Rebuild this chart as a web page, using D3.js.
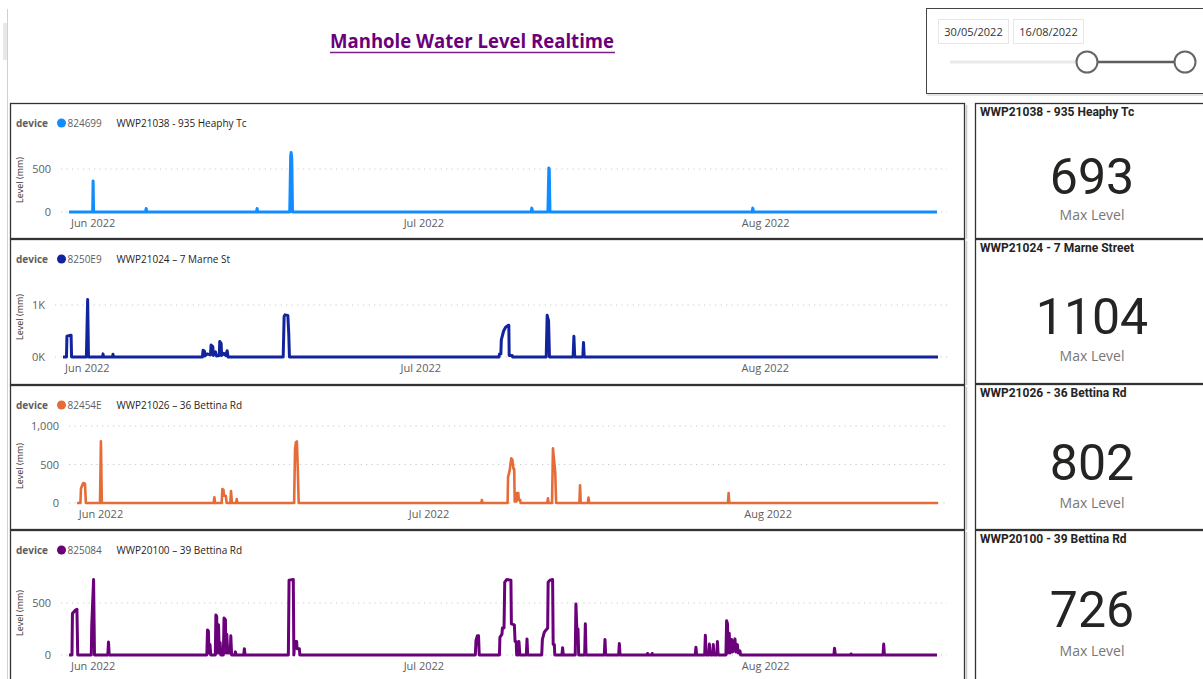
<!DOCTYPE html>
<html><head><meta charset="utf-8">
<script src="https://cdn.jsdelivr.net/npm/d3@7"></script>
<style>
body{margin:0;background:#fff;overflow:hidden;}
svg{display:block;font-family:"Open Sans","Segoe UI",sans-serif;}
</style></head><body>
<svg id="c" width="1203" height="679"></svg>
<script>
// ---------- DATA ----------
const titleText = "Manhole Water Level Realtime";
const sliderDates = ["30/05/2022", "16/08/2022"];
const domainStart = "05-29 20:30", domainEnd = "08-16 14:00";
const devices = ["824699", "8250E9", "82454E", "825084"];
const seriesNames = ["WWP21038 - 935 Heaphy Tc", "WWP21024 \u2013 7 Marne St", "WWP21026 \u2013 36 Bettina Rd", "WWP20100 \u2013 39 Bettina Rd"];
const cardTitles = ["WWP21038 - 935 Heaphy Tc", "WWP21024 - 7 Marne Street", "WWP21026 - 36 Bettina Rd", "WWP20100 - 39 Bettina Rd"];
const maxLevels = [693, 1104, 802, 726];
const cardLabel = "Max Level";
const yAxisTitle = "Level (mm)";
const xTickDates = ["06-01 00:00", "07-01 00:00", "08-01 00:00"];
const xTickLabels = ["Jun 2022", "Jul 2022", "Aug 2022"];
const yTickValues = [[0, 500], [0, 1000], [0, 500, 1000], [0, 500]];
const yTickLabels = [["0", "500"], ["0K", "1K"], ["0", "500", "1,000"], ["0", "500"]];
const yDomainMax = [750, 1150, 1000, 750];

const heaphy = [["05-29 20:30",0],
["06-01 00:00",0],["06-01 01:00",360],["06-01 02:00",0],
["06-05 19:00",0],["06-05 20:30",40],["06-05 22:00",0],
["06-15 20:30",0],["06-15 22:00",40],["06-15 23:30",0],
["06-18 21:00",0],["06-18 23:00",640],["06-19 00:00",693],["06-19 01:30",620],["06-19 03:00",0],
["07-10 18:30",0],["07-10 20:00",45],["07-10 21:30",0],
["07-12 07:00",0],["07-12 09:00",512],["07-12 10:00",490],["07-12 11:30",0],
["07-30 19:30",0],["07-30 21:00",45],["07-30 22:30",0],
["08-16 14:00",0]];

const marne = [["05-29 20:30",0],
["05-30 04:00",0],["05-30 05:00",400],["05-30 09:00",410],["05-30 14:00",420],["05-30 15:00",0],
["05-31 23:00",0],["06-01 01:45",1104],["06-01 03:30",0],
["06-02 10:00",0],["06-02 11:00",60],["06-02 12:00",0],
["06-03 07:30",0],["06-03 08:30",55],["06-03 09:30",0],
["06-11 09:30",0],["06-11 11:00",130],["06-11 14:00",110],["06-11 15:00",20],["06-11 19:45",60],["06-12 03:00",40],["06-12 04:15",230],["06-12 08:00",200],["06-12 09:00",30],["06-12 13:45",100],["06-12 16:00",20],["06-12 22:00",30],["06-12 23:00",300],["06-13 02:00",260],["06-13 03:00",30],["06-13 07:45",70],["06-13 12:00",30],["06-13 15:00",120],["06-13 17:00",0],
["06-18 16:00",0],["06-18 18:00",780],["06-18 20:00",810],["06-19 02:00",800],["06-19 04:00",450],["06-19 05:30",0],
["07-08 02:00",0],["07-08 03:00",60],["07-08 06:00",60],["07-08 07:00",330],["07-08 12:00",500],["07-08 16:00",570],["07-08 20:00",600],["07-08 23:15",610],["07-09 00:00",30],["07-09 06:30",30],["07-09 07:30",0],
["07-12 08:00",0],["07-12 10:00",802],["07-12 13:00",700],["07-12 15:00",0],
["07-14 18:00",0],["07-14 19:45",400],["07-14 21:30",0],
["07-15 15:00",0],["07-15 16:30",280],["07-15 18:00",0],
["08-16 14:00",0]];

const bettina36 = [["05-29 20:30",0],
["05-30 04:00",0],["05-30 05:15",190],["05-30 10:15",260],["05-30 14:00",250],["05-30 16:00",0],
["05-31 23:00",0],["06-01 01:00",802],["06-01 03:00",0],
["06-11 08:30",0],["06-11 10:00",75],["06-11 11:30",0],
["06-12 02:00",0],["06-12 03:30",180],["06-12 06:00",170],["06-12 07:00",95],["06-12 11:00",95],["06-12 13:00",0],
["06-12 21:00",0],["06-12 22:30",155],["06-13 00:30",0],
["06-13 09:30",0],["06-13 11:00",50],["06-13 12:30",0],
["06-18 17:00",0],["06-18 19:00",700],["06-18 21:00",790],["06-18 23:00",800],["06-19 01:00",450],["06-19 03:00",0],
["07-05 19:30",0],["07-05 21:00",40],["07-05 22:30",0],
["07-08 05:30",0],["07-08 06:30",340],["07-08 10:00",420],["07-08 13:30",580],["07-08 16:00",560],["07-08 18:30",440],["07-08 20:00",440],["07-08 21:00",20],["07-09 01:00",20],["07-09 02:00",130],["07-09 05:00",130],["07-09 06:00",40],["07-09 09:00",40],["07-09 10:00",0],
["07-11 20:30",0],["07-11 22:00",60],["07-11 23:30",0],
["07-12 07:00",0],["07-12 09:00",710],["07-12 14:00",400],["07-12 16:00",0],
["07-14 19:00",0],["07-14 20:30",230],["07-14 22:00",0],
["07-15 13:30",0],["07-15 15:00",70],["07-15 16:30",0],
["07-28 09:00",0],["07-28 10:30",130],["07-28 12:00",0],
["08-16 14:00",0]];

const bettina39 = [["05-29 20:30",0],
["05-30 03:00",0],["05-30 04:00",400],["05-30 10:00",430],["05-30 13:45",440],["05-30 15:30",0],
["05-31 21:00",0],["05-31 22:00",280],["06-01 02:00",726],["06-01 04:00",0],
["06-02 09:00",0],["06-02 10:30",125],["06-02 12:00",0],
["06-11 08:30",0],["06-11 10:00",240],["06-11 12:00",230],["06-11 13:00",20],["06-11 15:30",100],["06-11 17:00",0],
["06-12 03:00",0],["06-12 04:15",385],["06-12 06:00",370],["06-12 07:00",20],["06-12 09:00",20],["06-12 10:00",290],["06-12 11:30",20],["06-12 13:30",120],["06-12 15:00",0],
["06-12 20:30",0],["06-12 22:00",355],["06-13 01:00",340],["06-13 02:00",20],["06-13 04:00",200],["06-13 06:00",20],["06-13 11:30",20],["06-13 12:45",185],["06-13 14:30",0],
["06-13 21:15",0],["06-13 22:45",30],["06-14 00:15",0],
["06-14 16:45",0],["06-14 18:15",60],["06-14 19:45",0],
["06-18 18:00",0],["06-18 19:30",720],["06-19 04:45",726],["06-19 06:00",0],["06-19 08:00",130],["06-19 12:00",130],["06-19 13:00",60],["06-19 18:00",60],["06-19 19:00",0],
["07-05 17:00",0],["07-05 18:30",140],["07-05 21:30",185],["07-06 00:00",185],["07-06 01:30",0],
["07-07 21:30",0],["07-07 22:30",170],["07-08 03:00",200],["07-08 04:00",260],["07-08 07:30",260],["07-08 09:00",700],["07-08 13:30",726],["07-08 22:30",720],["07-08 23:30",300],["07-09 06:00",290],["07-09 07:30",130],["07-09 10:00",130],["07-09 11:00",0],
["07-09 14:30",0],["07-09 16:00",130],["07-09 18:00",0],
["07-10 08:00",0],["07-10 09:30",155],["07-10 11:00",0],
["07-11 17:30",0],["07-11 19:00",150],["07-11 23:15",220],["07-12 06:30",260],["07-12 07:30",700],["07-12 11:30",720],["07-12 17:15",726],["07-12 18:30",100],["07-12 21:00",100],["07-12 22:00",0],
["07-13 13:30",0],["07-13 15:00",70],["07-13 16:30",0],
["07-14 18:30",0],["07-14 20:00",490],["07-14 22:00",250],["07-15 00:30",250],["07-15 02:00",0],
["07-15 15:00",0],["07-15 16:30",300],["07-15 18:00",0],
["07-17 09:45",0],["07-17 11:15",150],["07-17 12:45",0],
["07-18 17:00",0],["07-18 18:30",110],["07-18 20:00",0],
["07-21 07:00",0],["07-21 08:00",15],["07-21 09:00",0],["07-21 17:00",0],["07-21 18:00",15],["07-21 19:00",0],
["07-25 15:45",0],["07-25 17:15",75],["07-25 18:45",0],
["07-26 12:15",0],["07-26 13:45",190],["07-26 15:15",0],
["07-26 21:00",0],["07-26 22:30",105],["07-27 00:00",0],["07-27 05:30",0],["07-27 07:00",100],["07-27 08:30",0],["07-27 14:30",0],["07-27 16:00",130],["07-27 17:30",0],
["07-28 10:30",0],["07-28 12:00",330],["07-28 14:00",300],["07-28 15:00",20],["07-28 17:45",210],["07-28 19:30",20],["07-28 23:00",150],["07-29 01:00",30],["07-29 06:15",155],["07-29 08:00",30],["07-29 11:30",100],["07-29 13:00",20],["07-29 17:00",40],["07-29 18:30",0],
["08-07 05:30",0],["08-07 07:00",65],["08-07 08:30",0],
["08-08 18:00",0],["08-08 19:00",10],["08-08 20:00",0],
["08-11 16:30",0],["08-11 18:00",105],["08-11 19:30",0],
["08-16 14:00",0]];

const allSeries = [heaphy, marne, bettina36, bettina39];
const colors = ["#118DFF", "#12239E", "#E66C37", "#6B007B"];

// ---------- LAYOUT ----------
const parse = s => d3.timeParse("%Y-%m-%d %H:%M")("2022-" + s);
const svg = d3.select("#c");
const panels = [
  {y: 103, h: 136, x0: 69, x1: 937, yZero: 212, yTop: 147.5, legY: 123, xLabY: 223, axTitleY: 180, sw: 3},
  {y: 239, h: 146, x0: 63, x1: 938, yZero: 357, yTop: 297.2, legY: 259, xLabY: 368, axTitleY: 317, sw: 3},
  {y: 385, h: 145, x0: 77, x1: 938, yZero: 503, yTop: 426, legY: 405, xLabY: 514, axTitleY: 466, sw: 2.6},
  {y: 530, h: 160, x0: 69, x1: 937, yZero: 655, yTop: 577, legY: 550, xLabY: 666, axTitleY: 613, sw: 3}
];
const cards = [{y: 103, h: 136}, {y: 239, h: 145}, {y: 384, h: 146}, {y: 530, h: 160}];

// left page edge
svg.append("rect").attr("x", 3).attr("y", 23).attr("width", 4).attr("height", 37).attr("fill", "#e8e8e8");
svg.append("line").attr("x1", 7.5).attr("x2", 7.5).attr("y1", 9).attr("y2", 679).attr("stroke", "#d0d0d0").attr("stroke-width", 1);

// title
svg.append("text").attr("x", 472).attr("y", 48).attr("text-anchor", "middle")
  .attr("font-size", 20).attr("font-weight", 700).attr("fill", "#6B007B")
  .attr("textLength", 284).attr("lengthAdjust", "spacingAndGlyphs").text(titleText);
svg.append("line").attr("x1", 330).attr("x2", 615).attr("y1", 52.5).attr("y2", 52.5).attr("stroke", "#7a1f8c").attr("stroke-width", 1.6);

// slider
svg.append("rect").attr("x", 926.5).attr("y", 8.5).attr("width", 300).attr("height", 85).attr("fill", "#fff").attr("stroke", "#444").attr("stroke-width", 1);
svg.append("line").attr("x1", 927).attr("x2", 1203).attr("y1", 95).attr("y2", 95).attr("stroke", "#ddd").attr("stroke-width", 1.5);
[[938, 70], [1013, 70]].forEach((b, i) => {
  svg.append("rect").attr("x", b[0] + 0.5).attr("y", 19.5).attr("width", b[1]).attr("height", 24).attr("fill", "#fff").attr("stroke", "#e6e6e6");
  svg.append("text").attr("x", b[0] + b[1] / 2 + 0.5).attr("y", 35.5).attr("text-anchor", "middle").attr("font-size", 11).attr("fill", "#333").text(sliderDates[i]);
});
svg.append("line").attr("x1", 950).attr("x2", 1087).attr("y1", 62).attr("y2", 62).attr("stroke", "#e9e9e9").attr("stroke-width", 3);
svg.append("line").attr("x1", 1087).attr("x2", 1185).attr("y1", 62).attr("y2", 62).attr("stroke", "#605E5C").attr("stroke-width", 2.5);
[1087, 1185].forEach(cx => svg.append("circle").attr("cx", cx).attr("cy", 62).attr("r", 10.5).attr("fill", "#fff").attr("stroke", "#666").attr("stroke-width", 2));

// chart panels
const xDomain = [parse(domainStart), parse(domainEnd)];
panels.forEach((p, i) => {
  svg.append("rect").attr("x", 10.5).attr("y", p.y + 0.5).attr("width", 954).attr("height", p.h - 1)
    .attr("fill", "#fff").attr("stroke", "#333").attr("stroke-width", 1.3);
  svg.append("line").attr("x1", 966.5).attr("x2", 966.5).attr("y1", p.y + 2).attr("y2", p.y + p.h).attr("stroke", "#c8c8c8").attr("stroke-width", 1.5);

  const x = d3.scaleTime().domain(xDomain).range([p.x0, p.x1]);
  const y = d3.scaleLinear().domain([0, yDomainMax[i]]).range([p.yZero, p.yTop]);
  const g = svg.append("g");

  g.selectAll(".grid").data(yTickValues[i]).join("line")
    .attr("x1", p.x0 - 8).attr("x2", p.x1 + 10)
    .attr("y1", d => y(d)).attr("y2", d => y(d))
    .attr("stroke", "#c8c8c8").attr("stroke-width", 1).attr("stroke-dasharray", "1.2,4.3");

  const ya = g.append("g").attr("transform", `translate(${p.x0},0)`)
    .call(d3.axisLeft(y).tickValues(yTickValues[i]).tickSize(0).tickPadding(18)
      .tickFormat((d, k) => yTickLabels[i][k]));
  ya.select(".domain").remove();
  ya.selectAll("text").attr("font-size", 11).attr("fill", "#605E5C").attr("font-family", "Open Sans");

  const xa = g.append("g").attr("transform", `translate(0,${p.xLabY - 7})`)
    .call(d3.axisBottom(x).tickValues(xTickDates.map(parse)).tickSize(0).tickPadding(3)
      .tickFormat((d, k) => xTickLabels[k]));
  xa.select(".domain").remove();
  xa.selectAll("text").attr("font-size", 11).attr("fill", "#605E5C").attr("font-family", "Open Sans");

  g.append("text").attr("transform", `translate(23,${p.axTitleY}) rotate(-90)`).attr("text-anchor", "middle")
    .attr("font-size", 9).attr("fill", "#333").text(yAxisTitle);

  const data = allSeries[i].map(d => ({t: parse(d[0]), v: d[1]}));
  g.append("path").datum(data)
    .attr("d", d3.line().x(d => x(d.t)).y(d => y(d.v)))
    .attr("fill", "none").attr("stroke", colors[i]).attr("stroke-width", p.sw)
    .attr("stroke-linejoin", "round").attr("stroke-linecap", "butt");

  const lg = g.append("g").attr("transform", `translate(0,${p.legY})`);
  lg.append("text").attr("x", 16).attr("y", 3.8).attr("font-size", 10).attr("font-weight", 700).attr("fill", "#605E5C").text("device");
  lg.append("circle").attr("cx", 61.5).attr("cy", 0).attr("r", 4.5).attr("fill", colors[i]);
  lg.append("text").attr("x", 67.5).attr("y", 3.8).attr("font-size", 10).attr("fill", "#605E5C").text(devices[i]);
  lg.append("text").attr("x", 116.5).attr("y", 3.8).attr("font-size", 10).attr("fill", "#252423").text(seriesNames[i]);
});

// KPI cards
cards.forEach((c, i) => {
  svg.append("rect").attr("x", 975.5).attr("y", c.y + 0.5).attr("width", 240).attr("height", c.h - 1)
    .attr("fill", "#fff").attr("stroke", "#333").attr("stroke-width", 1.3);
  svg.append("text").attr("x", 980).attr("y", c.y + 12.5).attr("font-size", 12).attr("font-weight", 700)
    .attr("font-family", "Roboto").attr("fill", "#252423").text(cardTitles[i]);
  const numY = [194, 334, 480, 627][i];
  const lblY = [220, 361, 508, 656][i];
  svg.append("text").attr("x", 1092).attr("y", numY).attr("text-anchor", "middle").attr("font-size", 50)
    .attr("font-family", "Roboto").attr("fill", "#252423").text(maxLevels[i]);
  svg.append("text").attr("x", 1092).attr("y", lblY).attr("text-anchor", "middle").attr("font-size", 14)
    .attr("font-family", "Open Sans").attr("fill", "#777").text(cardLabel);
});
</script>
</body></html>
